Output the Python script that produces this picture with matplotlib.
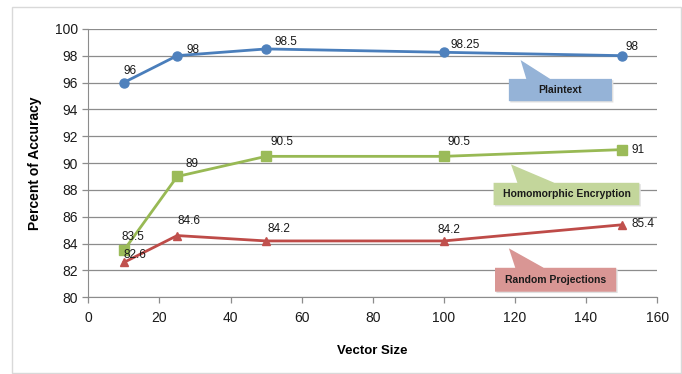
import numpy as np
import matplotlib.pyplot as plt
from matplotlib.patches import Polygon, Rectangle

plt.rcParams['font.family'] = ['Liberation Sans', 'DejaVu Sans']

# data
vector_size = [10, 25, 50, 100, 150]
plaintext = [96, 98, 98.5, 98.25, 98]
homomorphic = [83.5, 89, 90.5, 90.5, 91]
random_proj = [82.6, 84.6, 84.2, 84.2, 85.4]
series_names = ['Plaintext', 'Homomorphic Encryption', 'Random Projections']

# label offsets in pixels (dx, dy) for each point
off_plain = [(0, 12), (9, 6), (8, 7), (7, 7), (4, 9)]
off_homo = [(-2, 13), (8, 12), (4, 14), (4, 14), (10, 0)]
off_rand = [(0, 7), (0, 15), (1, 12), (-6, 11), (10, 1)]

fig = plt.figure(figsize=(6.82, 3.74), dpi=100)
ax = fig.add_axes([0.1295, 0.205, 0.834, 0.718])

# outer chart frame
fig.patches.append(Rectangle((12 / 682, 1 - 373 / 374), 669 / 682, 366 / 374,
                             transform=fig.transFigure, fill=False,
                             edgecolor='#d9d9d9', lw=1.0))

cols = ['#4a7ebb', '#98b954', '#be4b48']
mfc = ['#4f81bd', '#9bbb59', '#c0504d']
marks = ['o', 's', '^']
ys = [plaintext, homomorphic, random_proj]
offs = [off_plain, off_homo, off_rand]

for y, c, fc, m, off in zip(ys, cols, mfc, marks, offs):
    ax.plot(vector_size, y, color=c, lw=2.0, marker=m, ms=6.5 if m != '^' else 6,
            mfc=fc, mec=fc, zorder=4)
    for xv, yv, (dx, dy) in zip(vector_size, y, off):
        ax.annotate('%g' % yv, (xv, yv), xytext=(dx * 0.72, dy * 0.72),
                    textcoords='offset points', ha='left', va='center',
                    fontsize=8.5, color='#1a1a1a', zorder=6)

# callouts: box (x0, x1, ybottom, ytop), wedge base (xa, xb), tip (xt, yt)
callouts = [
    ((118.3, 147.3, 94.61, 96.27), (123.2, 129.9), (121.6, 97.67), '#95b3d7'),
    ((114.0, 155.0, 86.87, 88.53), (120.7, 131.1), (118.9, 89.9), '#c3d69b'),
    ((114.4, 148.5, 80.42, 82.2), (120.1, 128.1), (118.3, 83.65), '#d99694'),
]
for ((x0, x1, yb, yt), (xa, xb), (tx, ty), fc), name in zip(callouts, series_names):
    pts = [(x0, yb), (x1, yb), (x1, yt), (xb, yt), (tx, ty), (xa, yt), (x0, yt)]
    shadow = [(px + 0.4, py - 0.1) for px, py in pts]
    ax.add_patch(Polygon(shadow, closed=True, fc='#e0e0e0', ec='none', zorder=2))
    ax.add_patch(Polygon(pts, closed=True, fc=fc, ec='none', zorder=3))
    ax.text((x0 + x1) / 2, (yb + yt) / 2, name, ha='center', va='center',
            fontsize=7.5, fontweight='bold', color='#1a1a1a', zorder=5)

ax.set_xlim(0, 160)
ax.set_ylim(80, 100)
ax.set_xticks(np.arange(0, 161, 20))
ax.set_yticks(np.arange(80, 101, 2))
ax.grid(axis='y', color='#8c8c8c', lw=0.9)
ax.set_axisbelow(True)
for s in ['top', 'right']:
    ax.spines[s].set_visible(False)
for s in ['left', 'bottom']:
    ax.spines[s].set_color('#8c8c8c')
ax.tick_params(axis='both', colors='#8c8c8c', labelcolor='#1a1a1a',
               labelsize=10, length=4, width=0.9)
ax.tick_params(axis='x', pad=6)
ax.set_xlabel('Vector Size', fontsize=9.5, fontweight='bold', labelpad=14)
ax.set_ylabel('Percent of Accuracy', fontsize=10, fontweight='bold', labelpad=9)

plt.savefig('out.png', dpi=100)
